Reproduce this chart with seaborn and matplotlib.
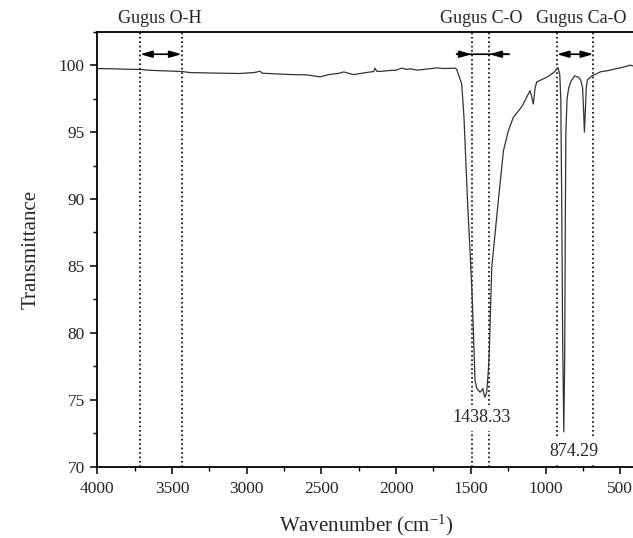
import numpy as np
import pandas as pd
import seaborn as sns
import matplotlib.pyplot as plt
from matplotlib.ticker import MultipleLocator

sns.set_theme(style="ticks")
plt.rcParams['font.family'] = ['Liberation Serif', 'DejaVu Serif']
plt.rcParams['mathtext.fontset'] = 'custom'
plt.rcParams['mathtext.rm'] = 'Liberation Serif'
plt.rcParams['mathtext.it'] = 'Liberation Serif:italic'

# spectrum (wavenumber cm-1, transmittance)
wavenumber = [4000, 3900, 3800, 3714, 3650, 3560, 3435, 3380, 3250, 3157, 3050, 2950,
              2911, 2895, 2800, 2700, 2600, 2509, 2450, 2380, 2351, 2320, 2286, 2200,
              2150, 2141, 2130, 2108, 2050, 2000, 1963, 1930, 1900, 1860, 1818, 1780,
              1728, 1680, 1606, 1595, 1580, 1561, 1546, 1532, 1520, 1505, 1490, 1472,
              1461, 1450, 1438, 1428, 1420, 1412, 1405, 1394, 1384, 1376, 1368, 1360,
              1338, 1316, 1282, 1249, 1216, 1159, 1104, 1092, 1082, 1070, 1059, 992,
              940, 925, 916, 905, 898, 892, 886, 878, 872, 868, 864, 856, 845, 830,
              805, 780, 765, 752, 745, 740, 734, 728, 720, 700, 691, 668, 635, 580,
              523, 480, 434, 400]
transmittance = [99.75, 99.73, 99.70, 99.68, 99.62, 99.58, 99.53, 99.45, 99.42, 99.40, 99.38, 99.45,
                 99.55, 99.40, 99.35, 99.30, 99.28, 99.13, 99.30, 99.40, 99.50, 99.40, 99.30, 99.45,
                 99.53, 99.78, 99.55, 99.53, 99.60, 99.63, 99.78, 99.68, 99.73, 99.63, 99.68, 99.73,
                 99.80, 99.75, 99.78, 99.70, 99.20, 98.60, 96.10, 92.40, 89.30, 86.00, 82.40, 76.40,
                 75.90, 75.70, 75.57, 75.70, 75.84, 75.40, 75.20, 75.57, 77.00, 78.70, 82.00, 84.90,
                 87.40, 89.90, 93.60, 95.10, 96.10, 96.90, 98.10, 97.60, 97.10, 98.30, 98.75, 99.10,
                 99.50, 99.75, 99.80, 99.30, 97.50, 90.00, 80.00, 72.60, 78.00, 88.00, 95.00, 97.50, 98.30, 98.80,
                 99.20, 99.10, 98.90, 98.30, 96.50, 95.00, 96.50, 98.30, 98.90, 99.10, 99.20, 99.30, 99.50, 99.60,
                 99.75, 99.85, 100.00, 99.90]

df = pd.DataFrame({"wn": wavenumber, "T": transmittance})

# band markers
oh_lines = [3714, 3435]
co_lines = [1494, 1377]
co_arrow_span = [1595, 1245]
cao_lines = [925, 680]
band_names = ["Gugus O-H", "Gugus C-O", "Gugus Ca-O"]
band_name_x = [3580, 1432, 762]
peak_labels = ["1438.33", "874.29"]
peak_label_x = [1427, 811]
peak_label_y = [73.64, 71.15]

fig = plt.figure(figsize=(6.33, 5.38), dpi=100)
ax = fig.add_axes([0.1537, 0.1325, 0.8498, 0.8085])

sns.lineplot(data=df, x="wn", y="T", ax=ax, color="#333333", linewidth=0.9)

for x in oh_lines + co_lines + cao_lines:
    ax.axvline(x, color="black", linestyle=":", linewidth=1.2, zorder=1)

arrow_y = 100.82
head = dict(arrowstyle="-|>,head_length=0.6,head_width=0.17", color="black", lw=1.2,
            mutation_scale=12, shrinkA=0, shrinkB=0)
both = dict(head, arrowstyle="<|-|>,head_length=0.6,head_width=0.17")
plain = dict(head, arrowstyle="-")
ax.annotate("", xy=(oh_lines[1], arrow_y), xytext=(oh_lines[0], arrow_y), arrowprops=both)
ax.annotate("", xy=(cao_lines[1], arrow_y), xytext=(cao_lines[0], arrow_y), arrowprops=both)
ax.annotate("", xy=(co_arrow_span[1], arrow_y), xytext=(co_arrow_span[0], arrow_y), arrowprops=plain)
ax.annotate("", xy=(co_lines[0], arrow_y), xytext=(co_arrow_span[0], arrow_y), arrowprops=head)
ax.annotate("", xy=(co_lines[1], arrow_y), xytext=(co_arrow_span[1], arrow_y), arrowprops=head)

for name, x in zip(band_names, band_name_x):
    ax.text(x, 103.5, name, ha="center", va="center", fontsize=13, clip_on=False)

for lab, x, y in zip(peak_labels, peak_label_x, peak_label_y):
    ax.text(x, y, lab, ha="center", va="center", fontsize=13, zorder=5,
            bbox=dict(boxstyle="square,pad=0.25", facecolor="white", edgecolor="none"))

ax.set_xlim(4000, 400)
ax.set_ylim(70, 102.5)
ax.set_xticks([4000, 3500, 3000, 2500, 2000, 1500, 1000, 500])
ax.set_yticks([70, 75, 80, 85, 90, 95, 100])
ax.xaxis.set_minor_locator(MultipleLocator(250))
ax.yaxis.set_minor_locator(MultipleLocator(2.5))
ax.tick_params(which="major", direction="out", length=5, width=1.1, labelsize=12.5, color="black")
ax.tick_params(which="minor", direction="out", length=3, width=1.0, color="black")
ax.tick_params(axis="x", pad=5)
ax.tick_params(axis="y", pad=4)
ax.tick_params(top=False, right=False, which="both")

for s in ["left", "bottom", "top"]:
    ax.spines[s].set_linewidth(1.3)
    ax.spines[s].set_color("black")
ax.spines["right"].set_visible(False)

ax.set_xlabel(r"Wavenumber (cm$^{\mathregular{-1}}$)", fontsize=15)
ax.set_ylabel("Transmittance", fontsize=15)
ax.xaxis.set_label_coords(0.5, -0.105)
ax.yaxis.set_label_coords(-0.105, 0.5)

fig.savefig("out.png", dpi=100)
